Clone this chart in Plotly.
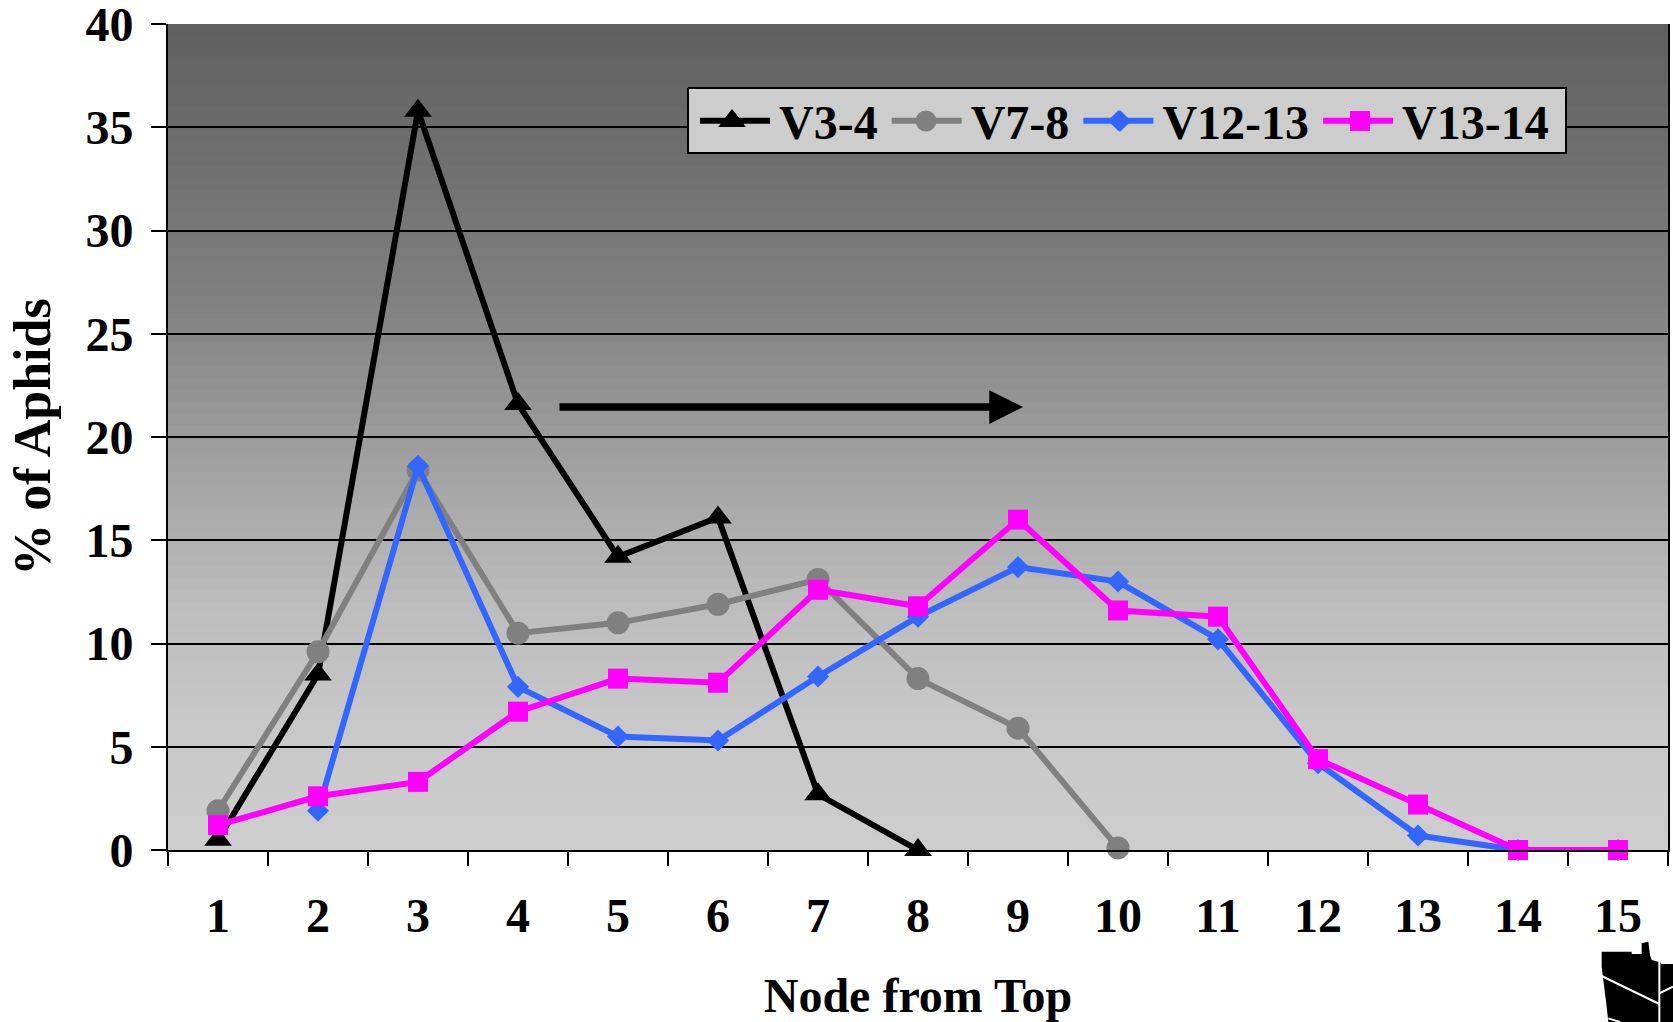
import plotly.graph_objects as go

nodes = [str(i) for i in range(1, 16)]
v3_4 = [0.5, 8.5, 35.8, 21.6, 14.2, 16.1, 2.7, 0.0, None, None, None, None, None, None, None]
v7_8 = [1.9, 9.6, 18.4, 10.5, 11.0, 11.9, 13.1, 8.3, 5.9, 0.1, None, None, None, None, None]
v12_13 = [None, 1.9, 18.6, 7.9, 5.5, 5.3, 8.4, 11.3, 13.7, 13.0, 10.2, 4.2, 0.7, 0.0, 0.0]
v13_14 = [1.2, 2.6, 3.3, 6.7, 8.3, 8.1, 12.6, 11.8, 16.0, 11.6, 11.3, 4.4, 2.2, 0.0, 0.0]
y_ticks = list(range(0, 45, 5))
y_tick_text = [f"<b>{v}</b>" for v in y_ticks]
x_tick_text = [f"<b>{v}</b>" for v in nodes]

FONT = "Liberation Serif"
L, R, T, B = 168, 1668, 24, 850
W, H = 1673, 1022


def px(x):
    return (x - L) / (R - L)


def py(y):
    return (B - y) / (B - T)


def poly(points):
    return "M" + " L".join(f"{px(x):.5f},{py(y):.5f}" for x, y in points) + " Z"


# background gradient
stops = [(0.0, 95), (0.33, 128), (0.5, 156), (0.7, 188), (0.85, 200), (1.0, 205)]


def grey(t):
    for (a, ca), (b, cb) in zip(stops, stops[1:]):
        if t <= b:
            return round(ca + (cb - ca) * (t - a) / (b - a))
    return stops[-1][1]


shapes = []
N = 70
for i in range(N):
    g = grey((i + 0.5) / N)
    shapes.append(dict(type="rect", xref="paper", yref="paper", x0=0, x1=1,
                       y0=1 - i / N, y1=max(0, 1 - (i + 1) / N - 0.001),
                       fillcolor=f"rgb({g},{g},{g})", line_width=0, layer="below"))

# map glyph, bottom-right corner
Mx = lambda p: 1400 + p / 3
My = lambda p: 780 + p / 3
silhouette = [(605, 515), (695, 515), (695, 522), (725, 522), (725, 490), (745, 485), (750, 525),
              (755, 540), (780, 547), (785, 552), (819, 552), (819, 726), (625, 726), (620, 680),
              (610, 600), (605, 560)]
shapes.append(dict(type="path", xref="paper", yref="paper",
                   path=poly([(Mx(a), My(b)) for a, b in silhouette]),
                   fillcolor="black", line_width=0, layer="above"))
for seg in [[(605, 588), (778, 672)], [(778, 545), (778, 726)], [(778, 640), (819, 620)], [(625, 715), (660, 726)]]:
    (a, b), (c, d) = seg
    shapes.append(dict(type="line", xref="paper", yref="paper",
                       x0=px(Mx(a)), y0=py(My(b)), x1=px(Mx(c)), y1=py(My(d)),
                       line=dict(color="white", width=2), layer="above"))


def series(name, vals, color, symbol, size):
    return go.Scatter(x=nodes, y=vals, name=f"\u200a<b>{name}</b>\u200a", mode="lines+markers", cliponaxis=False,
                      line=dict(color=color, width=6),
                      marker=dict(symbol=symbol, size=size, color=color, line=dict(color=color, width=0)))


def key(x, color, symbol, size):
    # full-size marker of a legend key (the legend itself caps marker size)
    return go.Scatter(x=[x], y=[121], xaxis="x2", yaxis="y2", mode="markers", showlegend=False, hoverinfo="skip",
                      marker=dict(symbol=symbol, size=size, color=color, line_width=0))


legend_panel = go.Scatter(x=[688, 1566, 1566, 688, 688], y=[88, 88, 153, 153, 88], xaxis="x2", yaxis="y2",
                          mode="lines", fill="toself", fillcolor="#cdcdcd", line=dict(color="black", width=2),
                          showlegend=False, hoverinfo="skip")

fig = go.Figure([
    series("V3-4", v3_4, "#000000", "triangle-up", 24),
    series("V7-8", v7_8, "#808080", "circle", 23),
    series("V12-13", v12_13, "#3366ff", "diamond", 17),
    series("V13-14", v13_14, "#ff00ff", "square", 20),
    legend_panel,
    key(732, "#000000", "triangle-up", 24),
    key(926, "#808080", "circle", 21),
    key(1120, "#3366ff", "diamond", 17),
    key(1360, "#ff00ff", "square", 20),
])

fig.update_layout(
    width=W, height=H, autosize=False,
    margin=dict(l=L, r=W - R, t=T, b=H - B, pad=0),
    paper_bgcolor="white", plot_bgcolor="rgba(0,0,0,0)",
    font=dict(family=FONT, color="black"),
    shapes=shapes,
    xaxis=dict(type="category", categoryorder="array", categoryarray=nodes, range=[-0.5, 14.5],
               tickmode="array", tickvals=nodes, ticktext=x_tick_text, automargin=False,
               tickson="boundaries", ticks="outside", ticklen=14, tickwidth=2, tickcolor="black",
               showgrid=False, showline=True, linecolor="black", linewidth=2, zeroline=False,
               tickfont=dict(family=FONT, size=48, color="black"), ticklabelstandoff=22,
               ticklabeloverflow="allow",
               title=dict(text="<b>Node from Top</b>", font=dict(family=FONT, size=48, color="black"), standoff=41)),
    yaxis=dict(range=[0, 40], tickmode="array", tickvals=y_ticks, ticktext=y_tick_text, automargin=False,
               ticks="outside", ticklen=15, tickwidth=2, tickcolor="black",
               showgrid=True, gridcolor="black", gridwidth=2, showline=True, linecolor="black", linewidth=2,
               mirror=True, zeroline=False, ticklabeloverflow="allow",
               tickfont=dict(family=FONT, size=48, color="black"), ticklabelstandoff=8,
               title=dict(text="<b>% of Aphids</b>", font=dict(family=FONT, size=52, color="black"), standoff=18)),
    xaxis2=dict(overlaying="x", range=[L, R], visible=False, anchor="y2", fixedrange=True),
    yaxis2=dict(overlaying="y", range=[B, T], visible=False, anchor="x2", fixedrange=True),
    legend=dict(orientation="h", x=px(695), y=py(83), xanchor="left", yanchor="top",
                bgcolor="rgba(0,0,0,0)", borderwidth=0, itemwidth=70,
                font=dict(family=FONT, size=48, color="black"), traceorder="normal", itemclick=False),
    annotations=[dict(xref="paper", yref="paper", x=px(1023), y=py(407), axref="pixel", ayref="pixel",
                      ax=-465, ay=0, text="", showarrow=True, arrowhead=2, arrowsize=0.9, arrowwidth=7.5,
                      arrowcolor="black", standoff=0)],
    showlegend=True,
)

fig.write_html("out.html", config=dict(displayModeBar=False),
               post_script="document.body.style.margin='0';document.documentElement.style.overflow='hidden';")
